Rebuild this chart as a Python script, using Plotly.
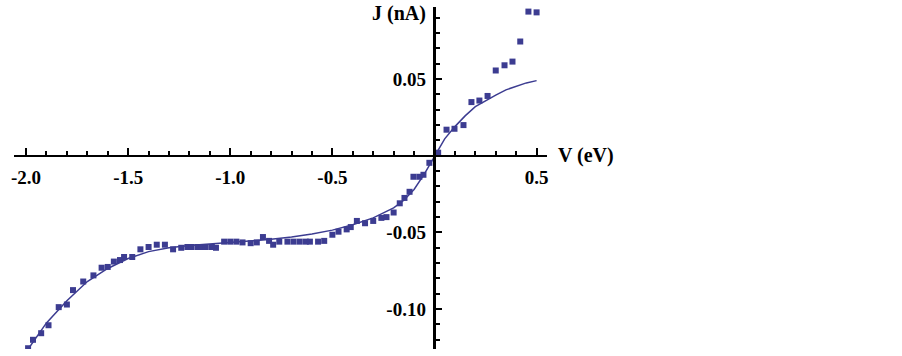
import plotly.graph_objects as go

# Measured data points (V in eV, J in nA)
v_data = [-1.99, -1.966, -1.926, -1.89, -1.84, -1.80, -1.77, -1.72, -1.67, -1.63,
          -1.60, -1.57, -1.54, -1.52, -1.48, -1.44, -1.40, -1.36, -1.32, -1.28,
          -1.24, -1.21, -1.19, -1.16, -1.14, -1.12, -1.09, -1.07, -1.03, -1.00,
          -0.97, -0.94, -0.90, -0.87, -0.84, -0.81, -0.79, -0.76, -0.72, -0.69,
          -0.66, -0.63, -0.61, -0.57, -0.54, -0.50, -0.47, -0.43, -0.41, -0.38,
          -0.34, -0.30, -0.26, -0.235, -0.20, -0.17, -0.147, -0.122, -0.103, -0.074,
          -0.054, -0.025, 0.018, 0.059, 0.098, 0.142, 0.181, 0.22, 0.26, 0.30,
          0.343, 0.382, 0.42, 0.46, 0.50]
j_data = [-0.1255, -0.120, -0.1157, -0.1105, -0.0987, -0.097, -0.0876, -0.082, -0.078, -0.073,
          -0.0725, -0.069, -0.068, -0.066, -0.066, -0.061, -0.0595, -0.058, -0.058, -0.061,
          -0.060, -0.0595, -0.0595, -0.0595, -0.0595, -0.0595, -0.0595, -0.060, -0.056, -0.056,
          -0.056, -0.0565, -0.057, -0.0565, -0.053, -0.0555, -0.058, -0.056, -0.056, -0.056,
          -0.056, -0.056, -0.056, -0.056, -0.0555, -0.0515, -0.0495, -0.048, -0.0465, -0.0425,
          -0.044, -0.0425, -0.0405, -0.040, -0.037, -0.031, -0.0275, -0.0235, -0.0137, -0.0137,
          -0.0124, -0.0046, 0.002, 0.017, 0.0176, 0.020, 0.035, 0.036, 0.039, 0.0556,
          0.059, 0.0614, 0.0745, 0.094, 0.0935]

# Fitted curve
v_fit = [-2.0, -1.9, -1.8, -1.7, -1.6, -1.5, -1.4, -1.3, -1.2, -1.1, -1.0, -0.9, -0.8,
         -0.7, -0.6, -0.5, -0.4, -0.3, -0.2, -0.15, -0.1, -0.05, 0.0, 0.05, 0.1, 0.15,
         0.2, 0.25, 0.3, 0.35, 0.4, 0.45, 0.5]
j_fit = [-0.128, -0.109, -0.0945, -0.082, -0.0735, -0.067, -0.0625, -0.060, -0.0585,
         -0.0575, -0.0565, -0.0555, -0.0545, -0.053, -0.051, -0.0485, -0.045, -0.0405,
         -0.034, -0.029, -0.022, -0.012, 0.0, 0.011, 0.019, 0.026, 0.032, 0.036, 0.0395,
         0.043, 0.0455, 0.0475, 0.049]

x_tickvals = [-2.0, -1.5, -1.0, -0.5, 0.5]
x_ticktext = ["-2.0", "-1.5", "-1.0", "-0.5", "0.5"]
y_tickvals = [0.05, -0.05, -0.10]
y_ticktext = ["0.05", "-0.05", "-0.10"]

color = "rgb(60,60,145)"
W, H = 902, 356
x_range = [-2.059, 0.551]
y_range = [-0.126, 0.097]
x_dom = [14 / W, 547 / W]
y_dom = [(H - 349) / H, (H - 7) / H]

# paper positions of the zero crossings
x0_paper = x_dom[0] + (0 - x_range[0]) / (x_range[1] - x_range[0]) * (x_dom[1] - x_dom[0])
y0_paper = y_dom[0] + (0 - y_range[0]) / (y_range[1] - y_range[0]) * (y_dom[1] - y_dom[0])

font_family = "Liberation Serif"
tick_font = dict(family=font_family, size=19, color="black", weight="bold")

fig = go.Figure()
fig.add_trace(go.Scatter(x=v_fit, y=j_fit, mode="lines",
                         line=dict(color=color, width=1.5), showlegend=False))
fig.add_trace(go.Scatter(x=v_data, y=j_data, mode="markers",
                         marker=dict(symbol="square", size=6, color=color, line=dict(width=0)),
                         showlegend=False))

fig.update_layout(
    width=W, height=H,
    margin=dict(l=0, r=0, t=0, b=0, autoexpand=False),
    paper_bgcolor="white", plot_bgcolor="white",
    xaxis=dict(range=x_range, domain=x_dom, anchor="free", position=y0_paper,
               automargin=False,
               showgrid=False, zeroline=False, showline=True, linecolor="black", linewidth=2,
               tickmode="array", tickvals=x_tickvals, ticktext=x_ticktext,
               ticks="inside", ticklen=7, tickwidth=1.5, tickcolor="black",
               minor=dict(tickmode="linear", tick0=0, dtick=0.1, ticks="inside",
                          ticklen=4, tickwidth=1.5, tickcolor="black"),
               tickfont=tick_font, ticklabelstandoff=4),
    yaxis=dict(range=y_range, domain=y_dom, anchor="free", position=x0_paper,
               automargin=False,
               showgrid=False, zeroline=False, showline=True, linecolor="black", linewidth=2.5,
               tickmode="array", tickvals=y_tickvals, ticktext=y_ticktext,
               ticks="inside", ticklen=6, tickwidth=1.5, tickcolor="black",
               minor=dict(tickmode="linear", tick0=0, dtick=0.01, ticks="inside",
                          ticklen=4, tickwidth=1.5, tickcolor="black"),
               tickfont=tick_font, ticklabelstandoff=4),
    annotations=[
        dict(text="<b>J (nA)</b>", xref="paper", yref="paper",
             x=428 / W, y=(H - 14) / H, xanchor="right", yanchor="middle",
             showarrow=False, font=dict(family=font_family, size=20, color="black")),
        dict(text="<b>V (eV)</b>", xref="paper", yref="paper",
             x=556 / W, y=(H - 155) / H, xanchor="left", yanchor="middle",
             showarrow=False, font=dict(family=font_family, size=20, color="black")),
    ],
)

fig.write_html("out.html", config={"displayModeBar": False},
               post_script="document.body.style.margin='0';document.body.style.padding='0';")
